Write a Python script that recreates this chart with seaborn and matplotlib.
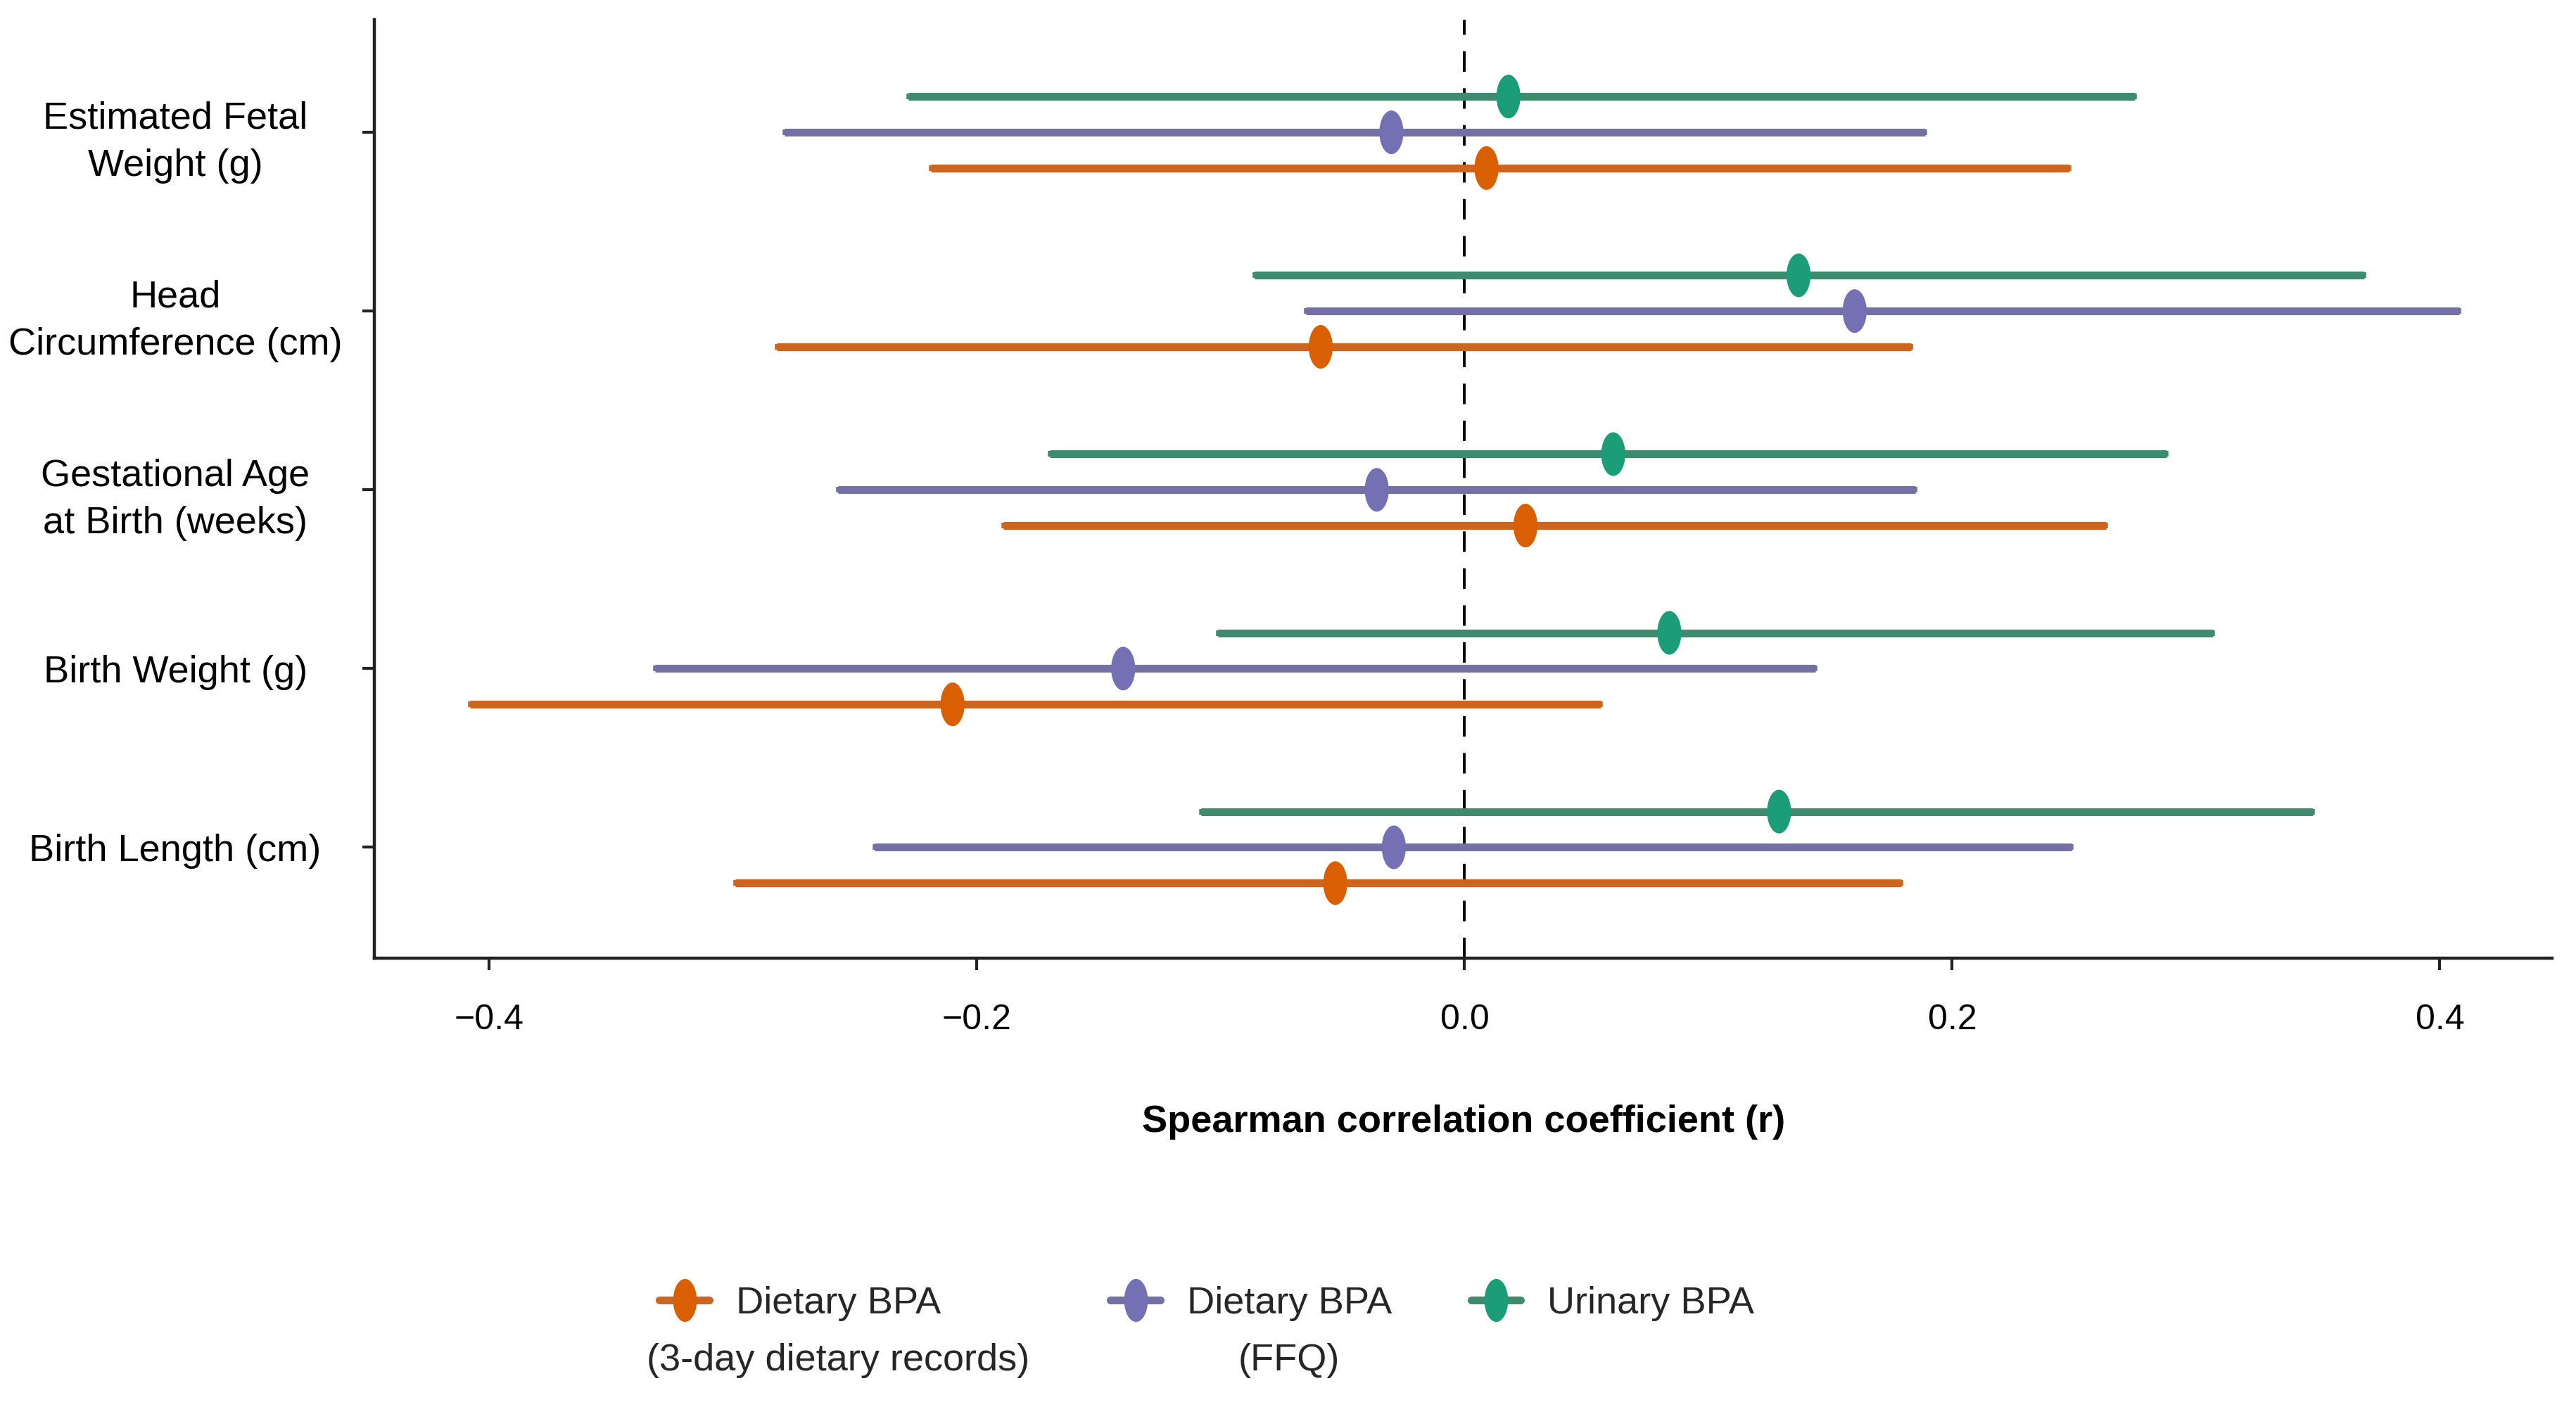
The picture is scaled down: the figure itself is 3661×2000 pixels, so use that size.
import numpy as np
import pandas as pd
import matplotlib
matplotlib.use("Agg")
import matplotlib.pyplot as plt
from matplotlib.lines import Line2D
from matplotlib.path import Path
import seaborn as sns

outcomes = ["Estimated Fetal\nWeight (g)", "Head\nCircumference (cm)",
            "Gestational Age\nat Birth (weeks)", "Birth Weight (g)", "Birth Length (cm)"]
exposures = ["Urinary BPA", "Dietary BPA (FFQ)", "Dietary BPA (3-day dietary records)"]

# Spearman r and 95% CI
r_urinary = [0.018, 0.137, 0.061, 0.084, 0.129]
lo_urinary = [-0.228, -0.086, -0.170, -0.101, -0.108]
hi_urinary = [0.275, 0.369, 0.288, 0.307, 0.348]
r_ffq = [-0.030, 0.160, -0.036, -0.140, -0.029]
lo_ffq = [-0.279, -0.065, -0.257, -0.332, -0.242]
hi_ffq = [0.189, 0.408, 0.185, 0.144, 0.249]
r_3day = [0.009, -0.059, 0.025, -0.210, -0.053]
lo_3day = [-0.219, -0.282, -0.189, -0.408, -0.299]
hi_3day = [0.248, 0.183, 0.263, 0.056, 0.179]

legend_first = ["Dietary BPA", "Dietary BPA", "Urinary BPA"]
legend_second = ["(3-day dietary records)", "(FFQ)", ""]

point_colors = {"Urinary BPA": "#1B9E77", "Dietary BPA (FFQ)": "#7570B3",
                "Dietary BPA (3-day dietary records)": "#D95F02"}
line_colors = {"Urinary BPA": "#3F8B70", "Dietary BPA (FFQ)": "#7470A6",
               "Dietary BPA (3-day dietary records)": "#CB651F"}
offsets = {"Urinary BPA": -0.2, "Dietary BPA (FFQ)": 0.0,
           "Dietary BPA (3-day dietary records)": 0.2}

rows = []
for exp, rs, los, his in zip(exposures, [r_urinary, r_ffq, r_3day],
                             [lo_urinary, lo_ffq, lo_3day], [hi_urinary, hi_ffq, hi_3day]):
    for i, out in enumerate(outcomes):
        rows.append({"outcome": out, "exposure": exp, "r": rs[i], "lo": los[i],
                     "hi": his[i], "y": i + offsets[exp]})
df = pd.DataFrame(rows)

# tall ellipse marker, like the original's points
t = np.linspace(0, 2 * np.pi, 40)
ellipse = Path(np.column_stack([0.55 * np.cos(t), np.sin(t)]))

sns.set_theme(style="ticks")
plt.rcParams["font.family"] = ["Liberation Sans", "DejaVu Sans"]

fig = plt.figure(figsize=(18.31, 10), dpi=200)
ax = fig.add_axes([0.1454, 0.319, 0.8450, 0.667])

ax.axvline(0, color="black", lw=1.4, ls=(0, (7.5, 6)), zorder=1)

for exp in exposures:
    d = df[df.exposure == exp]
    ax.errorbar(d.r, d.y, xerr=[d.r - d.lo, d.hi - d.r], fmt="none",
                ecolor=line_colors[exp], elinewidth=4, capsize=1.5, capthick=2, zorder=2)

sns.scatterplot(data=df, x="r", y="y", hue="exposure", palette=point_colors,
                marker=ellipse, s=500, linewidth=0, legend=False, zorder=3, ax=ax)

ax.set_xlim(-0.447, 0.446)
ax.set_ylim(4.62, -0.63)
ax.set_xticks([-0.4, -0.2, 0.0, 0.2, 0.4])
ax.set_xticklabels(["\u22120.4", "\u22120.2", "0.0", "0.2", "0.4"])
ax.set_yticks(range(len(outcomes)))
ax.set_yticklabels(outcomes)
for lbl in ax.get_yticklabels():
    lbl.set_multialignment("center")
    lbl.set_horizontalalignment("center")
    lbl.set_linespacing(1.45)
ax.tick_params(axis="y", labelsize=19.5, length=6, width=1.5, color="#222222",
               labelcolor="black", pad=96)
ax.tick_params(axis="x", labelsize=18, length=6, width=1.5, color="#222222",
               labelcolor="black", pad=17.5)
ax.set_xlabel("Spearman correlation coefficient (r)", fontsize=19.5, fontweight="bold",
              labelpad=35, color="black")
ax.set_ylabel("")
sns.despine(ax=ax)
for s in ["left", "bottom"]:
    ax.spines[s].set_linewidth(1.6)
    ax.spines[s].set_color("#222222")

# legend: one entry per exposure, second line centred underneath
leg_x = [0.256, 0.431, 0.571]
leg_exp = ["Dietary BPA (3-day dietary records)", "Dietary BPA (FFQ)", "Urinary BPA"]
legends = []
for exp, first, x in zip(leg_exp, legend_first, leg_x):
    h = Line2D([0], [0], color=line_colors[exp], lw=4, marker=ellipse, markersize=22,
               markerfacecolor=point_colors[exp], markeredgewidth=0)
    leg = fig.legend([h], [first], loc="center left", bbox_to_anchor=(x, 0.0736),
                     frameon=False, fontsize=19.5, handlelength=1.3, handletextpad=0.7,
                     borderpad=0, borderaxespad=0)
    legends.append(leg)

fig.canvas.draw()
renderer = fig.canvas.get_renderer()
for leg, second in zip(legends, legend_second):
    if not second:
        continue
    bb = leg.get_texts()[0].get_window_extent(renderer).transformed(fig.transFigure.inverted())
    fig.text((bb.x0 + bb.x1) / 2, 0.033, second, ha="center", va="center", fontsize=19.5)

fig.savefig("out.png", dpi=200, facecolor="white")
